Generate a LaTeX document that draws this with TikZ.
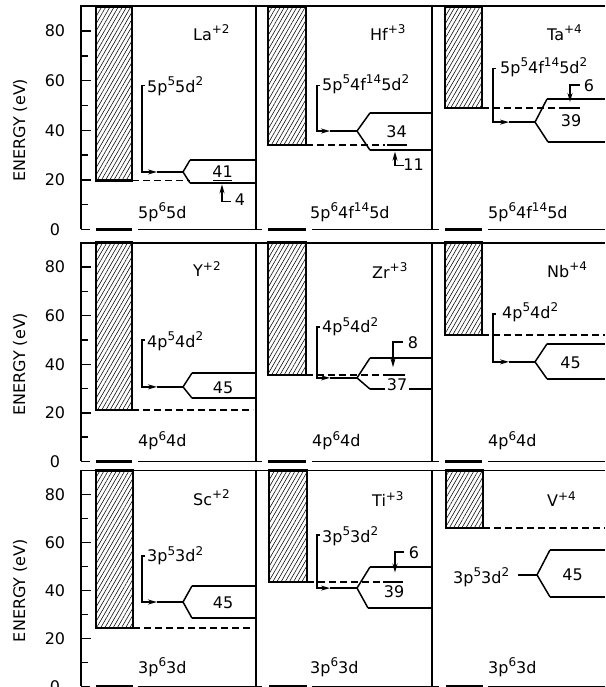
\documentclass[tikz,border=0pt]{standalone}
\usepackage{fontspec}
\setmainfont{DejaVu Sans}
\usetikzlibrary{arrows.meta,patterns.meta}
\newcommand{\sups}[1]{\raisebox{6.5pt}{\fontsize{12}{12}\selectfont #1}}

\begin{document}
\begin{tikzpicture}[x=1pt,y=1pt,
    txt/.style={inner sep=0pt, font=\fontsize{16}{18}\selectfont},
    boxline/.style={line width=1.6pt},
    bandline/.style={line width=2.7pt},
    ln/.style={line width=1.5pt},
    thresh/.style={line width=1.5pt, dash pattern=on 7pt off 4pt},
    hatchbox/.style={draw, line width=2.6pt, pattern={Lines[angle=60,distance=3.6pt,line width=0.55pt]}},
    arrowln/.style={ln, -{Stealth[length=9pt,width=5pt]}}]
\useasboundingbox (0,0) rectangle (605,687);
\clip (0,0) rectangle (605,687);

% ---------------- row 1: La, Hf, Ta
\begin{scope}[yshift=457.5pt, y=2.48pt]
    % Frame
    \draw[boxline] (81,0) -- (81,90) -- (605,90);
    \draw[boxline] (256,0) -- (256,90);
    \draw[boxline] (432,0) -- (432,90);
    \draw[ln] (81,0) -- (90,0) (138,0) -- (262,0) (312,0) -- (439,0) (488,0) -- (605,0);
    \draw[bandline] (96,0) -- (132,0) (268,0) -- (306,0) (445,0) -- (482,0);
    % Axis
    \foreach \e in {10,30,50,70} \draw[ln] (81,\e) -- (88,\e);
    \foreach \e in {20,40,60,80} \draw[ln] (81,\e) -- (91,\e);
    \foreach \e in {0,20,40,60,80} \node[txt] (ta\e) at (55,\e) {\e};
    \node[txt, rotate=90] (ylabA) at (20,40) {ENERGY (eV)};

    % La
    \draw[hatchbox] (96,19.8) rectangle (132,90);
    \node[txt, anchor=base west] (laIon) at (193,76.4) {La\sups{+2}};
    \node[txt, anchor=base west] (laCfg) at (147,55.4) {5p\sups{5}5d\sups{2}};
    \node[txt, anchor=base west] (laGnd) at (138,4.6) {5p\sups{6}5d};
    \coordinate (laFork) at (183,23.2);
    \coordinate (laUp) at (190,28);
    \coordinate (laLo) at (190,18.75);
    \draw[arrowln] (145,58) -- (142,58) |- (157,23.2);
    \draw[ln] (157,23.2) -- (laFork);
    \draw[ln] (laUp) -- (laFork) -- (laLo);
    \draw[bandline] (laUp) -- (256,28);
    \draw[bandline] (laLo) -- (256,18.75);
    \draw[thresh] (132,19.8) -- (190,19.8);
    \draw[ln] (213,19.8) -- (232,19.8);
    \node[txt] (laN) at (222.5,23.2) {41};
    \node[txt] (laM) at (240,11.9) {4};
    \draw[arrowln] (231,11.2) -| (222,18.2);

    % Hf
    \draw[hatchbox] (268,34.1) rectangle (306,90);
    \node[txt, anchor=base west] (hfIon) at (370,76.4) {Hf\sups{+3}};
    \node[txt, anchor=base west] (hfCfg) at (322,56.2) {5p\sups{5}4f\sups{14}5d\sups{2}};
    \node[txt, anchor=base west] (hfGnd) at (310,4.6) {5p\sups{6}4f\sups{14}5d};
    \coordinate (hfFork) at (357,39.7);
    \coordinate (hfUp) at (370,47);
    \coordinate (hfLo) at (370,32);
    \draw[arrowln] (320,58) -- (317,58) |- (330,39.7);
    \draw[ln] (330,39.7) -- (hfFork);
    \draw[ln] (hfUp) -- (hfFork) -- (hfLo);
    \draw[bandline] (hfUp) -- (432,47);
    \draw[bandline] (hfLo) -- (432,32);
    \draw[thresh] (306,34.1) -- (385,34.1);
    \draw[ln] (387,34.1) -- (407,34.1);
    \node[txt] (hfN) at (396.5,39.5) {34};
    \node[txt] (hfM) at (413.5,26) {11};
    \draw[arrowln] (404,25.8) -| (395,31.4);

    % Ta
    \draw[hatchbox] (445,49) rectangle (482,90);
    \node[txt, anchor=base west] (taIon) at (547,76.4) {Ta\sups{+4}};
    \node[txt, anchor=base west] (taCfg) at (500,63) {5p\sups{5}4f\sups{14}5d\sups{2}};
    \node[txt, anchor=base west] (taGnd) at (488,4.6) {5p\sups{6}4f\sups{14}5d};
    \coordinate (taFork) at (535,43.3);
    \coordinate (taUp) at (547,52.6);
    \coordinate (taLo) at (548,35.3);
    \draw[arrowln] (496,65) -- (493,65) |- (509,43.3);
    \draw[ln] (509,43.3) -- (taFork);
    \draw[ln] (taUp) -- (taFork) -- (taLo);
    \draw[bandline] (taUp) -- (605,52.6);
    \draw[bandline] (taLo) -- (605,35.3);
    \draw[thresh] (482,49) -- (560,49);
    \draw[ln] (560,49) -- (580,49);
    \node[txt] (taN) at (571,43.7) {39};
    \node[txt] (taM) at (589,57.9) {6};
    \draw[arrowln] (580,58.3) -| (570,51.4);
\end{scope}

% ---------------- row 2: Y, Zr, Nb
\begin{scope}[yshift=225.5pt, y=2.43pt]
    % Frame
    \draw[boxline] (81,0) -- (81,90) -- (605,90);
    \draw[boxline] (256,0) -- (256,90);
    \draw[boxline] (432,0) -- (432,90);
    \draw[ln] (81,0) -- (90,0) (138,0) -- (262,0) (312,0) -- (439,0) (488,0) -- (605,0);
    \draw[bandline] (96,0) -- (132,0) (268,0) -- (306,0) (445,0) -- (482,0);
    % Axis
    \foreach \e in {10,30,50,70} \draw[ln] (81,\e) -- (88,\e);
    \foreach \e in {20,40,60,80} \draw[ln] (81,\e) -- (91,\e);
    \foreach \e in {0,20,40,60,80} \node[txt] (tb\e) at (55,\e) {\e};
    \node[txt, rotate=90] (ylabB) at (20,40) {ENERGY (eV)};

    % Y
    \draw[hatchbox] (96,21.2) rectangle (132,90);
    \node[txt, anchor=base west] (yIon) at (193,76) {Y\sups{+2}};
    \node[txt, anchor=base west] (yCfg) at (147,47.1) {4p\sups{5}4d\sups{2}};
    \node[txt, anchor=base west] (yGnd) at (138,6) {4p\sups{6}4d};
    \coordinate (yFork) at (183,30.7);
    \coordinate (yUp) at (192,36.4);
    \coordinate (yLo) at (192,26.1);
    \draw[arrowln] (145,50) -- (142,50) |- (157,30.7);
    \draw[ln] (157,30.7) -- (yFork);
    \draw[ln] (yUp) -- (yFork) -- (yLo);
    \draw[bandline] (yUp) -- (256,36.4);
    \draw[bandline] (yLo) -- (256,26.1);
    \draw[thresh] (132,21.2) -- (253,21.2);
    \node[txt] (yN) at (223,30.5) {45};

    % Zr
    \draw[hatchbox] (268,35.6) rectangle (306,90);
    \node[txt, anchor=base west] (zrIon) at (372,75.5) {Zr\sups{+3}};
    \node[txt, anchor=base west] (zrCfg) at (322,52.9) {4p\sups{5}4d\sups{2}};
    \node[txt, anchor=base west] (zrGnd) at (312,6) {4p\sups{6}4d};
    \coordinate (zrFork) at (357,34.4);
    \coordinate (zrUp) at (370,42.6);
    \coordinate (zrLo) at (370,29.8);
    \draw[arrowln] (320,55.3) -- (317,55.3) |- (330,34.4);
    \draw[ln] (330,34.4) -- (zrFork);
    \draw[ln] (zrUp) -- (zrFork) -- (zrLo);
    \draw[bandline] (zrUp) -- (432,42.6);
    \draw[bandline] (zrLo) -- (432,29.8);
    \draw[thresh] (306,35.6) -- (385,35.6);
    \draw[ln] (385,35.6) -- (405,35.6);
    \node[txt, fill=white, inner xsep=2pt] (zrN) at (397,31.5) {37};
    \node[txt] (zrM) at (413,49) {8};
    \draw[arrowln] (403,49.2) -| (393,38.8);

    % Nb
    \draw[hatchbox] (445,52.1) rectangle (482,90);
    \node[txt, anchor=base west] (nbIon) at (547,75.9) {Nb\sups{+4}};
    \node[txt, anchor=base west] (nbCfg) at (502,59) {4p\sups{5}4d\sups{2}};
    \node[txt, anchor=base west] (nbGnd) at (488,6) {4p\sups{6}4d};
    \coordinate (nbFork) at (535,41);
    \coordinate (nbUp) at (547,48.4);
    \coordinate (nbLo) at (547,34);
    \draw[arrowln] (496,60.7) -- (493,60.7) |- (509,41);
    \draw[ln] (509,41) -- (nbFork);
    \draw[ln] (nbUp) -- (nbFork) -- (nbLo);
    \draw[bandline] (nbUp) -- (605,48.4);
    \draw[bandline] (nbLo) -- (605,34);
    \draw[thresh] (482,52.1) -- (605,52.1);
    \node[txt] (nbN) at (570.5,40.7) {45};
\end{scope}

% ---------------- row 3: Sc, Ti, V
\begin{scope}[yshift=0.5pt, y=2.40pt]
    % Frame
    \draw[boxline] (81,0) -- (81,90) -- (605,90);
    \draw[boxline] (256,0) -- (256,90);
    \draw[boxline] (432,0) -- (432,90);
    \draw[ln] (81,0) -- (90,0) (138,0) -- (262,0) (312,0) -- (439,0) (488,0) -- (605,0);
    \draw[bandline] (96,0) -- (133,0) (269,0) -- (307,0) (446,0) -- (483,0);
    % Axis
    \foreach \e in {10,30,50,70} \draw[ln] (81,\e) -- (88,\e);
    \foreach \e in {20,40,60,80} \draw[ln] (81,\e) -- (91,\e);
    \foreach \e in {0,20,40,60,80} \node[txt] (tc\e) at (55,\e) {\e};
    \node[txt, rotate=90] (ylabC) at (20,40) {ENERGY (eV)};

    % Sc
    \draw[hatchbox] (96,24.4) rectangle (133,90);
    \node[txt, anchor=base west] (scIon) at (193,75.6) {Sc\sups{+2}};
    \node[txt, anchor=base west] (scCfg) at (147,51.9) {3p\sups{5}3d\sups{2}};
    \node[txt, anchor=base west] (scGnd) at (138,5.6) {3p\sups{6}3d};
    \coordinate (scFork) at (183,35.2);
    \coordinate (scUp) at (192,41.9);
    \coordinate (scLo) at (192,28.5);
    \draw[arrowln] (145,54.4) -- (142,54.4) |- (157,35.2);
    \draw[ln] (157,35.2) -- (scFork);
    \draw[ln] (scUp) -- (scFork) -- (scLo);
    \draw[bandline] (scUp) -- (256,41.9);
    \draw[bandline] (scLo) -- (256,28.5);
    \draw[thresh] (133,24.4) -- (252,24.4);
    \node[txt] (scN) at (223,34.8) {45};

    % Ti
    \draw[hatchbox] (269,43.5) rectangle (307,90);
    \node[txt, anchor=base west] (tiIon) at (372,74.8) {Ti\sups{+3}};
    \node[txt, anchor=base west] (tiCfg) at (322,60.2) {3p\sups{5}3d\sups{2}};
    \node[txt, anchor=base west] (tiGnd) at (310,5.6) {3p\sups{6}3d};
    \coordinate (tiFork) at (357,41);
    \coordinate (tiUp) at (370,49.8);
    \coordinate (tiLo) at (368,32.7);
    \draw[arrowln] (320,63.1) -- (317,63.1) |- (330,41);
    \draw[ln] (330,41) -- (tiFork);
    \draw[ln] (tiUp) -- (tiFork) -- (tiLo);
    \draw[bandline] (tiUp) -- (432,49.8);
    \draw[bandline] (tiLo) -- (432,32.7);
    \draw[thresh] (307,43.5) -- (383,43.5);
    \draw[ln] (383,43.5) -- (403,43.5);
    \node[txt] (tiN) at (394,39.6) {39};
    \node[txt] (tiM) at (414,55.8) {6};
    \draw[arrowln] (404,56) -| (395,47.5);

    % V
    \draw[hatchbox] (446,66) rectangle (483,90);
    \node[txt, anchor=base west] (vIon) at (547,74.8) {V\sups{+4}};
    \node[txt, anchor=base west] (vCfg) at (453,43.1) {3p\sups{5}3d\sups{2}};
    \node[txt, anchor=base west] (vGnd) at (488,5.6) {3p\sups{6}3d};
    \coordinate (vFork) at (537,46.5);
    \coordinate (vUp) at (550,56.9);
    \coordinate (vLo) at (550,37.3);
    \draw[ln] (518,46.5) -- (vFork);
    \draw[ln] (vUp) -- (vFork) -- (vLo);
    \draw[bandline] (vUp) -- (605,56.9);
    \draw[bandline] (vLo) -- (605,37.3);
    \draw[thresh] (483,66) -- (605,66);
    \node[txt] (vN) at (572.5,46.5) {45};
\end{scope}
\end{tikzpicture}
\end{document}
